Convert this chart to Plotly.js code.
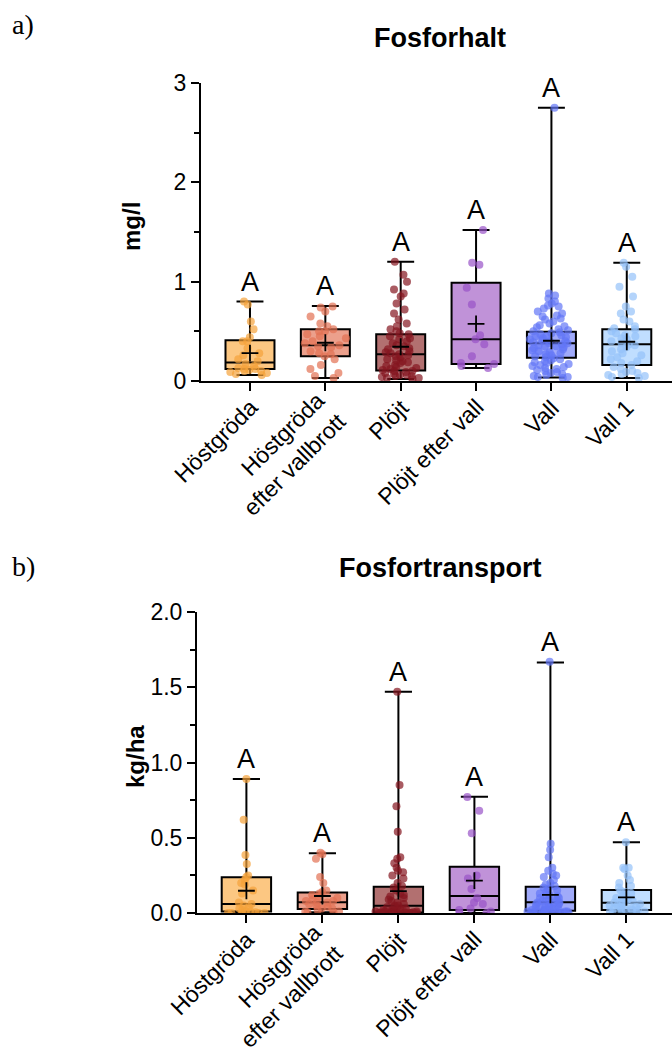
<!DOCTYPE html>
<html>
<head>
<meta charset="utf-8">
<script src="https://cdn.plot.ly/plotly-3.0.1.min.js"></script>
<style>html,body{margin:0;padding:0;background:#fff;}#chart{width:672px;height:1048px;}</style>
</head>
<body>
<div id="chart"></div>
<script>
// ---------- categories ----------
const groups = ['Höstgröda', 'Höstgröda<br>efter vallbrott', 'Plöjt', 'Plöjt efter vall', 'Vall', 'Vall 1'];
const letters = ['A', 'A', 'A', 'A', 'A', 'A'];

// ---------- a) Fosforhalt (mg/l) : box statistics ----------
const mgMin    = [0.06, 0.03, 0.02, 0.13, 0.035, 0.03];
const mgQ1     = [0.12, 0.25, 0.105, 0.17, 0.235, 0.16];
const mgMedian = [0.185, 0.36, 0.27, 0.42, 0.38, 0.37];
const mgQ3     = [0.41, 0.52, 0.47, 0.99, 0.495, 0.52];
const mgMax    = [0.80, 0.755, 1.20, 1.52, 2.75, 1.19];
const mgMean   = [0.28, 0.385, 0.345, 0.575, 0.405, 0.395];

// ---------- a) individual values ----------
const mgHostgroda = [0.80, 0.77, 0.60, 0.52, 0.44, 0.40, 0.40, 0.33, 0.28, 0.26, 0.22, 0.20, 0.17, 0.15, 0.13, 0.12, 0.12, 0.11, 0.10, 0.10, 0.09, 0.08, 0.07, 0.06];
const mgHostgrodaVallbrott = [0.75, 0.74, 0.70, 0.65, 0.58, 0.55, 0.52, 0.50, 0.50, 0.47, 0.45, 0.43, 0.40, 0.38, 0.36, 0.35, 0.34, 0.30, 0.28, 0.27, 0.25, 0.22, 0.16, 0.12, 0.08, 0.05, 0.03];
const mgPlojt = [1.20, 1.07, 1.00, 0.92, 0.88, 0.85, 0.78, 0.72, 0.68, 0.62, 0.58, 0.55, 0.52, 0.50, 0.48, 0.47, 0.45, 0.43, 0.42, 0.40, 0.38, 0.36, 0.35, 0.33, 0.32, 0.30, 0.29, 0.28, 0.27, 0.26, 0.25, 0.24, 0.22, 0.21, 0.20, 0.19, 0.18, 0.16, 0.15, 0.14, 0.13, 0.12, 0.11, 0.10, 0.10, 0.09, 0.08, 0.07, 0.06, 0.06, 0.05, 0.05, 0.04, 0.03, 0.03, 0.02];
const mgPlojtVall = [1.52, 1.19, 1.17, 0.94, 0.77, 0.46, 0.42, 0.37, 0.25, 0.18, 0.17, 0.15, 0.13];
const mgVall = [2.75, 0.88, 0.86, 0.83, 0.80, 0.78, 0.76, 0.75, 0.73, 0.70, 0.68, 0.66, 0.65, 0.63, 0.62, 0.60, 0.58, 0.56, 0.55, 0.54, 0.52, 0.51, 0.50, 0.49, 0.48, 0.47, 0.46, 0.45, 0.45, 0.44, 0.43, 0.42, 0.41, 0.40, 0.40, 0.39, 0.38, 0.38, 0.37, 0.36, 0.35, 0.35, 0.34, 0.33, 0.32, 0.31, 0.30, 0.29, 0.28, 0.27, 0.26, 0.25, 0.24, 0.23, 0.22, 0.21, 0.20, 0.19, 0.18, 0.17, 0.16, 0.15, 0.14, 0.13, 0.12, 0.11, 0.10, 0.09, 0.08, 0.07, 0.06, 0.05, 0.04, 0.04, 0.03];
const mgVall1 = [1.19, 1.15, 1.05, 0.95, 0.85, 0.75, 0.70, 0.68, 0.62, 0.60, 0.55, 0.53, 0.52, 0.50, 0.48, 0.46, 0.45, 0.43, 0.42, 0.40, 0.38, 0.37, 0.36, 0.34, 0.32, 0.30, 0.28, 0.26, 0.24, 0.22, 0.20, 0.18, 0.16, 0.14, 0.12, 0.10, 0.09, 0.08, 0.07, 0.06, 0.05, 0.04, 0.03];

// ---------- b) Fosfortransport (kg/ha) : box statistics ----------
const kgMin    = [0.0, 0.005, 0.0, 0.0, 0.0, 0.005];
const kgQ1     = [0.01, 0.027, 0.003, 0.02, 0.015, 0.02];
const kgMedian = [0.06, 0.071, 0.048, 0.113, 0.071, 0.068];
const kgQ3     = [0.237, 0.137, 0.175, 0.308, 0.175, 0.153];
const kgMax    = [0.89, 0.397, 1.47, 0.773, 1.665, 0.47];
const kgMean   = [0.148, 0.113, 0.146, 0.215, 0.12, 0.104];

// ---------- b) individual values ----------
const kgHostgroda = [0.89, 0.62, 0.385, 0.325, 0.25, 0.24, 0.22, 0.20, 0.19, 0.15, 0.13, 0.07, 0.06, 0.05, 0.04, 0.03, 0.02, 0.01, 0.01, 0.005, 0.0, 0.0, 0.0, 0.0, 0.0];
const kgHostgrodaVallbrott = [0.40, 0.39, 0.36, 0.24, 0.20, 0.15, 0.14, 0.13, 0.12, 0.11, 0.10, 0.09, 0.08, 0.08, 0.07, 0.07, 0.06, 0.05, 0.04, 0.03, 0.03, 0.02, 0.01, 0.01, 0.005, 0.005];
const kgPlojt = [1.47, 0.85, 0.71, 0.54, 0.37, 0.36, 0.33, 0.30, 0.28, 0.27, 0.25, 0.23, 0.20, 0.18, 0.17, 0.15, 0.13, 0.12, 0.11, 0.10, 0.09, 0.08, 0.07, 0.06, 0.05, 0.05, 0.04, 0.04, 0.03, 0.03, 0.02, 0.02, 0.02, 0.01, 0.01, 0.01, 0.01, 0.005, 0.005, 0.005, 0.003, 0.002, 0.001, 0.001, 0.0, 0.0, 0.0, 0.0, 0.0, 0.0];
const kgPlojtVall = [0.77, 0.68, 0.53, 0.25, 0.23, 0.16, 0.10, 0.07, 0.06, 0.03, 0.02, 0.01, 0.0, 0.0];
const kgVall = [1.67, 0.46, 0.42, 0.37, 0.30, 0.28, 0.26, 0.25, 0.24, 0.22, 0.20, 0.19, 0.18, 0.17, 0.16, 0.15, 0.14, 0.13, 0.12, 0.12, 0.11, 0.10, 0.10, 0.09, 0.09, 0.08, 0.08, 0.07, 0.07, 0.07, 0.06, 0.06, 0.05, 0.05, 0.05, 0.04, 0.04, 0.04, 0.03, 0.03, 0.03, 0.02, 0.02, 0.02, 0.02, 0.01, 0.01, 0.01, 0.01, 0.01, 0.005, 0.005, 0.005, 0.005, 0.002, 0.002, 0.0, 0.0, 0.0, 0.0, 0.0];
const kgVall1 = [0.47, 0.30, 0.30, 0.29, 0.25, 0.22, 0.20, 0.18, 0.17, 0.15, 0.14, 0.13, 0.12, 0.11, 0.10, 0.10, 0.09, 0.08, 0.08, 0.07, 0.07, 0.06, 0.06, 0.05, 0.05, 0.04, 0.04, 0.03, 0.03, 0.03, 0.02, 0.02, 0.02, 0.01, 0.01, 0.01, 0.005, 0.005];

const mgPoints = [mgHostgroda, mgHostgrodaVallbrott, mgPlojt, mgPlojtVall, mgVall, mgVall1];
const kgPoints = [kgHostgroda, kgHostgrodaVallbrott, kgPlojt, kgPlojtVall, kgVall, kgVall1];

// ---------- styling ----------
const pointColors = ['rgb(245,163,58)', 'rgb(226,112,82)', 'rgb(132,22,32)', 'rgb(152,82,200)', 'rgb(98,118,246)', 'rgb(148,194,250)'];
const fillColors  = ['rgb(252,199,130)', 'rgb(236,160,140)', 'rgb(178,112,112)', 'rgb(192,146,216)', 'rgb(160,170,250)', 'rgb(192,222,255)'];
const FONT = 'Liberation Sans, Arial, sans-serif';
const W = 672, H = 1048;

const traces = [];
const annotations = [];

function panel(xa, ya, q1, med, q3, lo, hi, mean, pts) {
  groups.forEach((g, i) => {
    traces.push({
      type: 'box', xaxis: xa, yaxis: ya, x: [g],
      q1: [q1[i]], median: [med[i]], q3: [q3[i]],
      lowerfence: [lo[i]], upperfence: [hi[i]],
      boxpoints: false, width: 0.65, whiskerwidth: 0.55,
      fillcolor: fillColors[i], line: {color: 'black', width: 2},
      hoverinfo: 'skip', showlegend: false
    });
    traces.push({
      type: 'box', xaxis: xa, yaxis: ya,
      x: pts[i].map(() => g), y: pts[i],
      boxpoints: 'all', jitter: 0.95, pointpos: 0, width: 0.65,
      fillcolor: 'rgba(0,0,0,0)', line: {color: 'rgba(0,0,0,0)', width: 0},
      marker: {color: pointColors[i], size: 8, opacity: 0.7, line: {width: 0}},
      hoverinfo: 'skip', showlegend: false
    });
    annotations.push({
      x: g, y: hi[i], xref: xa, yref: ya, text: letters[i], showarrow: false,
      yanchor: 'bottom', yshift: 3, font: {family: FONT, size: 27, color: 'black'}
    });
    // rotated category label, end of first line near the tick
    const nLines = g.split('<br>').length;
    annotations.push({
      x: g, y: 0, xref: xa, yref: ya + ' domain', text: g, showarrow: false,
      textangle: -45, xanchor: 'right', yanchor: 'top', align: 'right', borderpad: 0,
      xshift: nLines > 1 ? 27 : 14, yshift: nLines > 1 ? -4 : -12,
      font: {family: FONT, size: 23, color: 'black'}
    });
  });
  traces.push({
    type: 'scatter', mode: 'markers', xaxis: xa, yaxis: ya, x: groups, y: mean,
    marker: {symbol: 'cross-thin', size: 12, color: 'black', line: {width: 1.8, color: 'black'}},
    cliponaxis: false, hoverinfo: 'skip', showlegend: false
  });
}

panel('x', 'y', mgQ1, mgMedian, mgQ3, mgMin, mgMax, mgMean, mgPoints);
panel('x2', 'y2', kgQ1, kgMedian, kgQ3, kgMin, kgMax, kgMean, kgPoints);

const xBase = {
  type: 'category', range: [-0.65, 5.6], showticklabels: false,
  ticks: 'outside', ticklen: 8, tickwidth: 2, tickcolor: 'black',
  showline: true, linewidth: 2, linecolor: 'black',
  showgrid: false, zeroline: false, fixedrange: true
};
const yBase = {
  tickfont: {family: FONT, size: 23, color: 'black'},
  ticks: 'outside', ticklen: 8, tickwidth: 2, tickcolor: 'black',
  showline: true, linewidth: 2, linecolor: 'black',
  showgrid: false, zeroline: false, fixedrange: true
};

// text labels
annotations.push(
  {xref: 'paper', yref: 'paper', x: 10 / W, y: 1 - 25 / H, xanchor: 'left', yanchor: 'middle', text: 'a)', showarrow: false, font: {family: 'Liberation Serif, Times New Roman, serif', size: 28, color: 'black'}},
  {xref: 'paper', yref: 'paper', x: 10 / W, y: 1 - 566 / H, xanchor: 'left', yanchor: 'middle', text: 'b)', showarrow: false, font: {family: 'Liberation Serif, Times New Roman, serif', size: 28, color: 'black'}},
  {xref: 'paper', yref: 'paper', x: 440 / W, y: 1 - 38 / H, xanchor: 'center', yanchor: 'middle', text: '<b>Fosforhalt</b>', showarrow: false, font: {family: FONT, size: 27, color: 'black'}},
  {xref: 'paper', yref: 'paper', x: 440 / W, y: 1 - 568 / H, xanchor: 'center', yanchor: 'middle', text: '<b>Fosfortransport</b>', showarrow: false, font: {family: FONT, size: 27, color: 'black'}},
  {xref: 'paper', yref: 'paper', x: 131 / W, y: 1 - 227 / H, xanchor: 'center', yanchor: 'middle', textangle: -90, text: '<b>mg/l</b>', showarrow: false, font: {family: FONT, size: 24, color: 'black'}},
  {xref: 'paper', yref: 'paper', x: 135 / W, y: 1 - 757 / H, xanchor: 'center', yanchor: 'middle', textangle: -90, text: '<b>kg/ha</b>', showarrow: false, font: {family: FONT, size: 24, color: 'black'}}
);

const layout = {
  width: W, height: H,
  margin: {l: 0, r: 0, t: 0, b: 0},
  paper_bgcolor: 'white', plot_bgcolor: 'white',
  showlegend: false, boxmode: 'overlay',
  xaxis: Object.assign({}, xBase, {domain: [201 / W, 1], anchor: 'y'}),
  yaxis: Object.assign({}, yBase, {domain: [1 - 381 / H, 1 - 83 / H], range: [0, 3], dtick: 1, tick0: 0, anchor: 'x',
    minor: {dtick: 0.5, tick0: 0, ticks: 'outside', ticklen: 5, tickwidth: 2, tickcolor: 'black', showgrid: false}}),
  xaxis2: Object.assign({}, xBase, {domain: [197 / W, 1], anchor: 'y2'}),
  yaxis2: Object.assign({}, yBase, {domain: [1 - 913 / H, 1 - 612 / H], range: [0, 2], dtick: 0.5, tick0: 0, tickformat: '.1f', anchor: 'x2',
    minor: {dtick: 0.25, tick0: 0, ticks: 'outside', ticklen: 5, tickwidth: 2, tickcolor: 'black', showgrid: false}}),
  annotations: annotations
};

Plotly.newPlot('chart', traces, layout, {staticPlot: true, displayModeBar: false});
</script>
</body>
</html>
